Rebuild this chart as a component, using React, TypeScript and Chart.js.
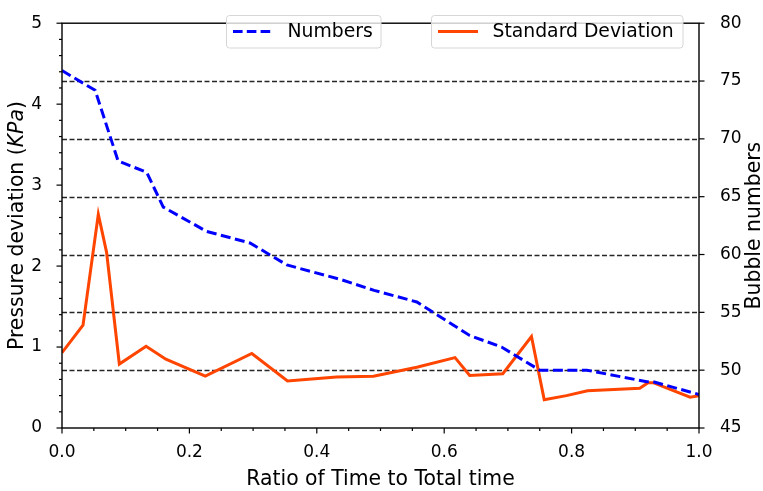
import React, { useEffect, useRef } from "react";
import { Chart, registerables } from "chart.js";

Chart.register(...registerables);

// ---- data ----
const timeNumbers = [0, 0.052, 0.088, 0.133, 0.159, 0.227, 0.295, 0.353, 0.44, 0.49, 0.557, 0.64, 0.69, 0.75, 0.824, 0.918, 0.928, 1.0];
const bubbleNumbers = [75.9, 74.2, 68.1, 67.1, 64.1, 62.0, 61.0, 59.1, 57.8, 56.9, 55.9, 53.0, 52.0, 50.0, 50.0, 49.0, 49.0, 47.9];

const timeStd = [0, 0.033, 0.057, 0.07, 0.09, 0.132, 0.163, 0.225, 0.298, 0.354, 0.431, 0.489, 0.557, 0.617, 0.64, 0.692, 0.737, 0.757, 0.792, 0.825, 0.907, 0.92, 0.928, 0.986, 1.0];
const stdDeviation = [0.93, 1.27, 2.64, 2.17, 0.79, 1.01, 0.85, 0.64, 0.92, 0.58, 0.63, 0.64, 0.75, 0.87, 0.65, 0.67, 1.13, 0.35, 0.4, 0.46, 0.49, 0.56, 0.56, 0.38, 0.4];

const seriesLabels = ["Numbers", "Standard Deviation"];
const xTitle = "Ratio of Time to Total time";
const yTitleParts = ["Pressure deviation (", "KPa", ")"];
const y2Title = "Bubble numbers";

const BLUE = "#0000ff";
const ORANGE = "#ff4500";
const FONT = "'DejaVu Sans', sans-serif";

const decorPlugin = {
  id: "decor",
  beforeDatasetsDraw(chart: any) {
    const { ctx, chartArea: a } = chart;
    const y2 = chart.scales.y2;
    ctx.save();
    ctx.strokeStyle = "rgba(0,0,0,0.85)";
    ctx.lineWidth = 1.3;
    ctx.setLineDash([5, 2.5]);
    y2.ticks.forEach((t: any) => {
      if (t.value <= y2.min || t.value >= y2.max) return;
      const y = Math.round(y2.getPixelForValue(t.value)) + 0.5;
      ctx.beginPath();
      ctx.moveTo(a.left, y);
      ctx.lineTo(a.right, y);
      ctx.stroke();
    });
    ctx.restore();
  },
  afterDraw(chart: any) {
    const { ctx, chartArea: a } = chart;
    const xs = chart.scales.x;
    const ys = chart.scales.y;
    const y2 = chart.scales.y2;
    ctx.save();
    // frame
    ctx.strokeStyle = "#000";
    ctx.lineWidth = 1.4;
    ctx.setLineDash([]);
    ctx.strokeRect(a.left, a.top, a.right - a.left, a.bottom - a.top);

    // ticks
    ctx.lineWidth = 1.2;
    const line = (x1: number, y1: number, x2: number, y2p: number) => {
      ctx.beginPath();
      ctx.moveTo(x1, y1);
      ctx.lineTo(x2, y2p);
      ctx.stroke();
    };
    for (let i = 0; i <= 20; i++) {
      const v = i * 0.05;
      const x = xs.getPixelForValue(v);
      line(x, a.bottom, x, a.bottom + (i % 4 === 0 ? 5.5 : 3));
    }
    for (let i = 0; i <= 25; i++) {
      const v = i * 0.2;
      const y = ys.getPixelForValue(v);
      line(a.left, y, a.left - (i % 5 === 0 ? 5.5 : 3), y);
    }
    y2.ticks.forEach((t: any) => {
      const y = y2.getPixelForValue(t.value);
      line(a.right, y, a.right + 5.5, y);
    });

    // axis titles
    ctx.fillStyle = "#000";
    ctx.textBaseline = "alphabetic";
    ctx.font = `20.4px ${FONT}`;
    ctx.textAlign = "center";
    ctx.fillText(xTitle, (a.left + a.right) / 2, 485);

    // left title (mixed italic)
    const cy = (a.top + a.bottom) / 2;
    const normal = `20.4px ${FONT}`;
    const italic = `italic 20.4px ${FONT}`;
    ctx.font = normal;
    const w0 = ctx.measureText(yTitleParts[0]).width;
    const w2 = ctx.measureText(yTitleParts[2]).width;
    ctx.font = italic;
    const w1 = ctx.measureText(yTitleParts[1]).width;
    const total = w0 + w1 + w2;
    ctx.save();
    ctx.translate(23, cy);
    ctx.rotate(-Math.PI / 2);
    ctx.textAlign = "left";
    let px = -total / 2;
    ctx.font = normal;
    ctx.fillText(yTitleParts[0], px, 0);
    px += w0;
    ctx.font = italic;
    ctx.fillText(yTitleParts[1], px, 0);
    px += w1;
    ctx.font = normal;
    ctx.fillText(yTitleParts[2], px, 0);
    ctx.restore();

    // right title
    ctx.save();
    ctx.translate(760, cy);
    ctx.rotate(-Math.PI / 2);
    ctx.textAlign = "center";
    ctx.font = normal;
    ctx.fillText(y2Title, 0, 0);
    ctx.restore();

    // legends
    const drawBox = (x: number, y: number, w: number, h: number) => {
      const r = 3;
      ctx.beginPath();
      ctx.moveTo(x + r, y);
      ctx.lineTo(x + w - r, y);
      ctx.quadraticCurveTo(x + w, y, x + w, y + r);
      ctx.lineTo(x + w, y + h - r);
      ctx.quadraticCurveTo(x + w, y + h, x + w - r, y + h);
      ctx.lineTo(x + r, y + h);
      ctx.quadraticCurveTo(x, y + h, x, y + h - r);
      ctx.lineTo(x, y + r);
      ctx.quadraticCurveTo(x, y, x + r, y);
      ctx.closePath();
      ctx.fillStyle = "rgba(255,255,255,0.8)";
      ctx.fill();
      ctx.strokeStyle = "#d6d6d6";
      ctx.lineWidth = 1;
      ctx.setLineDash([]);
      ctx.stroke();
    };
    const legends = [
      { x: 226.5, w: 154.5, color: BLUE, dash: [9.6, 4.2], label: seriesLabels[0] },
      { x: 431.5, w: 251.5, color: ORANGE, dash: [], label: seriesLabels[1] },
    ];
    legends.forEach((lg) => {
      drawBox(lg.x, 15.5, lg.w, 32.5);
      ctx.strokeStyle = lg.color;
      ctx.lineWidth = 3;
      ctx.setLineDash(lg.dash);
      ctx.beginPath();
      ctx.moveTo(lg.x + 6.5, 31.5);
      ctx.lineTo(lg.x + 46.5, 31.5);
      ctx.stroke();
      ctx.setLineDash([]);
      ctx.fillStyle = "#000";
      ctx.font = `18.8px ${FONT}`;
      ctx.textAlign = "left";
      ctx.textBaseline = "middle";
      ctx.fillText(lg.label, lg.x + 61, 32);
    });
    ctx.restore();
  },
};

export default function App() {
  const ref = useRef<HTMLCanvasElement>(null);
  useEffect(() => {
    document.body.style.margin = "0";
    const canvas = ref.current;
    if (!canvas) return;
    const chart = new Chart(canvas, {
      type: "line",
      data: {
        datasets: [
          {
            label: seriesLabels[0],
            data: timeNumbers.map((x, i) => ({ x, y: bubbleNumbers[i] })),
            yAxisID: "y2",
            borderColor: BLUE,
            borderWidth: 3,
            borderDash: [10, 4.5],
            pointRadius: 0,
            tension: 0,
            fill: false,
          },
          {
            label: seriesLabels[1],
            data: timeStd.map((x, i) => ({ x, y: stdDeviation[i] })),
            yAxisID: "y",
            borderColor: ORANGE,
            borderWidth: 3,
            pointRadius: 0,
            tension: 0,
            fill: false,
          },
        ],
      },
      options: {
        responsive: false,
        animation: false,
        devicePixelRatio: 1,
        layout: { padding: { top: 14, left: 0, right: 0, bottom: 0 } },
        plugins: { legend: { display: false }, tooltip: { enabled: false } },
        scales: {
          x: {
            type: "linear",
            min: 0,
            max: 1,
            grid: { display: false },
            border: { display: false },
            ticks: {
              stepSize: 0.2,
              autoSkip: false,
              maxRotation: 0,
              padding: 6,
              color: "#000",
              font: { family: FONT, size: 17 },
              callback: (v: any) => Number(v).toFixed(1),
            },
            afterFit: (s: any) => {
              s.height = 63;
            },
          },
          y: {
            type: "linear",
            position: "left",
            min: 0,
            max: 5,
            grid: { display: false },
            border: { display: false },
            ticks: {
              stepSize: 1,
              padding: 12,
              color: "#000",
              font: { family: FONT, size: 17 },
              callback: (v: any) => String(v),
            },
            afterFit: (s: any) => {
              s.width = 62;
            },
          },
          y2: {
            type: "linear",
            position: "right",
            min: 45,
            max: 80,
            grid: { display: false },
            border: { display: false },
            ticks: {
              stepSize: 5,
              padding: 13,
              color: "#000",
              font: { family: FONT, size: 17 },
              callback: (v: any) => String(v),
            },
            afterFit: (s: any) => {
              s.width = 64;
            },
          },
        },
      },
      plugins: [decorPlugin],
    });
    return () => chart.destroy();
  }, []);
  return (
    <div style={{ position: "absolute", left: 0, top: 0, width: 763, height: 491 }}>
      <canvas ref={ref} width={763} height={491} style={{ display: "block" }} />
    </div>
  );
}
